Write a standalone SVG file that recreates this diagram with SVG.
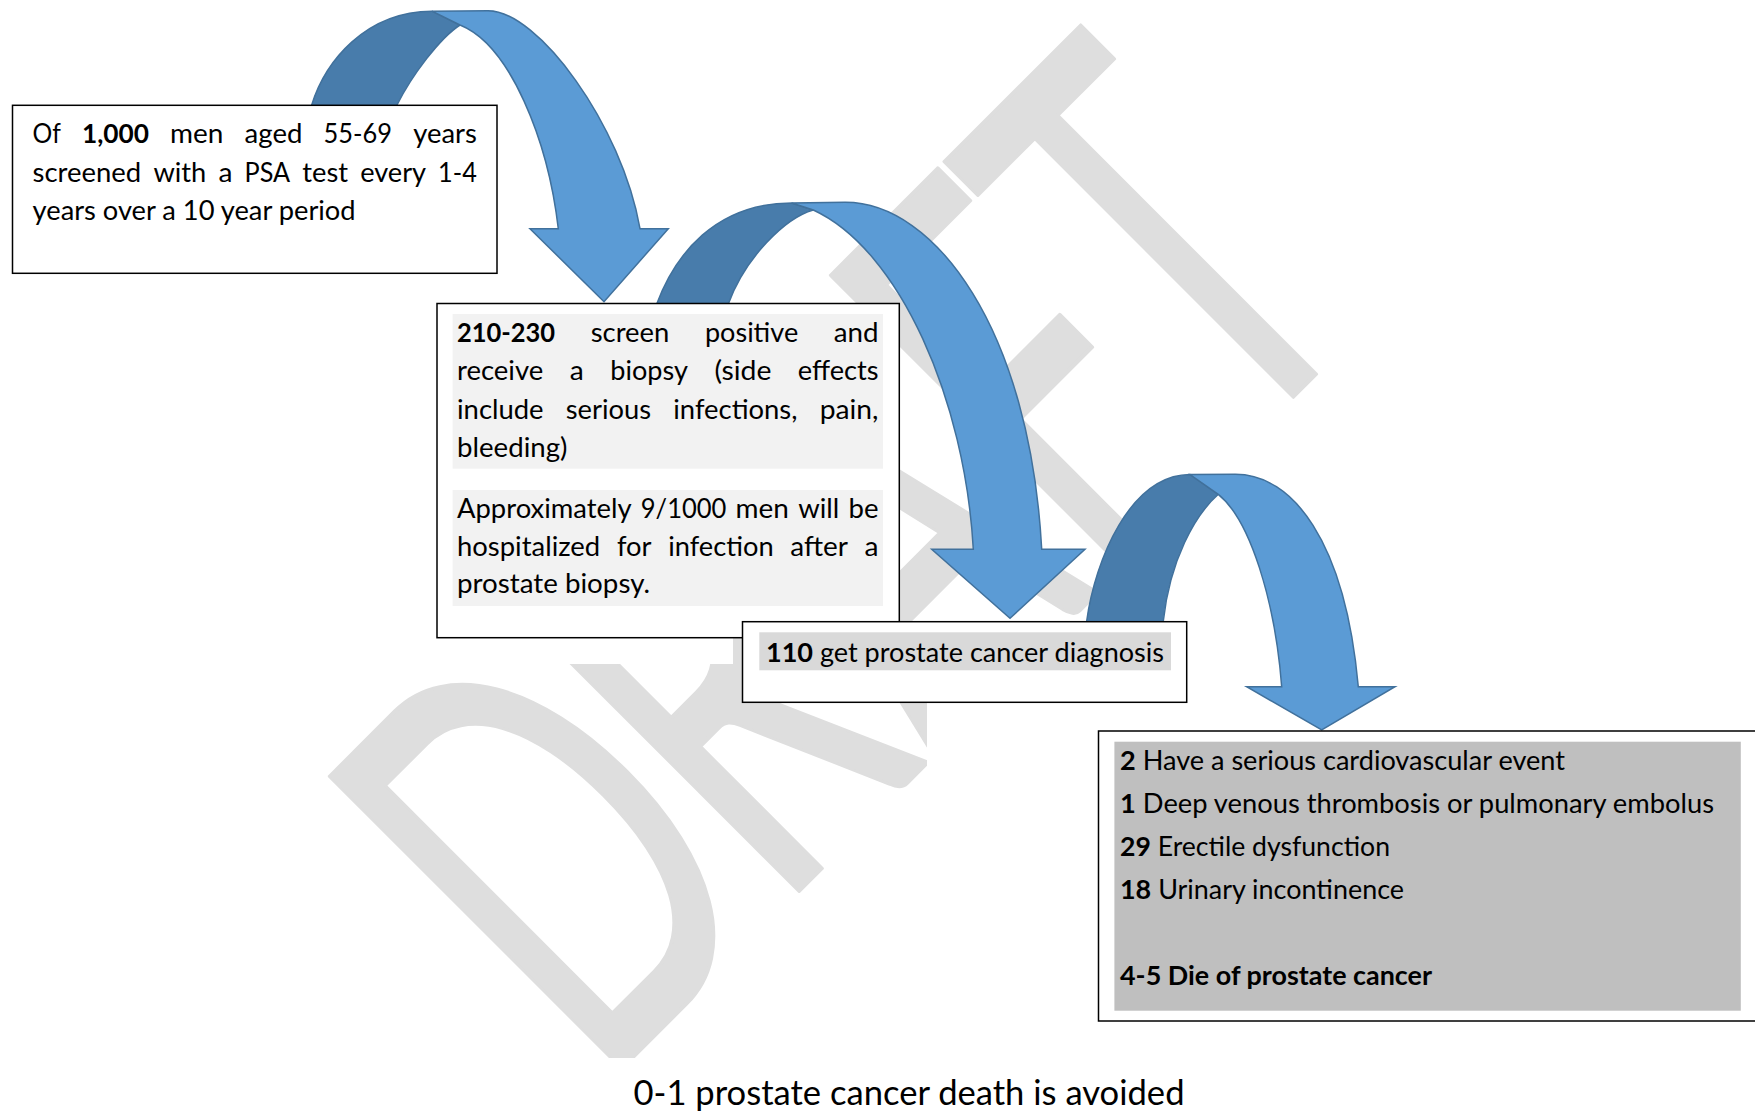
<svg xmlns="http://www.w3.org/2000/svg" width="1755" height="1111" viewBox="0 0 1755 1111">
<style>
.t{font-family:Lato,"Open Sans",sans-serif;font-size:27.3px;fill:#000}
.b{font-weight:bold}
.big{font-size:34.6px}
.box{fill:#fff;stroke:#000;stroke-width:1.5}
.ad{fill:#487CAB;stroke:#41719C;stroke-width:1.5}
.al{fill:#5B9BD5;stroke:#41719C;stroke-width:1.5}
.wm{font-family:Lato,sans-serif;font-size:576px;fill:#dedede;stroke:#dedede;stroke-width:4;stroke-linejoin:round}
</style>
<defs>
<clipPath id="wmclip"><path d="M733,0 H1755 V640 H927 V1058 H0 V664 H733 Z"/></clipPath>
</defs>
<rect width="1755" height="1111" fill="#fff"/>
<g id="watermark" clip-path="url(#wmclip)">
<text class="wm" transform="rotate(-45) scale(0.6,1)" x="-580 -162 207.5 601 913" y="1195">DRAFT</text>
</g>
<g id="connectors">
<g id="arrow1">
<path class="ad" d="M311,125 L311.7,105 C325,62 365,11.5 432,11.2 L460,25 C440,38 412,75 397,105 L397,125 Z"/>
<path class="al" d="M432,11.2 L488,10.7 C538,10.7 622,125 640,228.7 L668.3,228.7 L604,301.7 L530,228.7 L558.3,228.7 C548,140 510,45 460,25 Z"/>
</g>
</g>
<g id="node1">
<rect class="box" x="12.5" y="105.3" width="484.5" height="168"/>
<text class="t" y="143.3"><tspan x="32.6" textLength="28.3" lengthAdjust="spacingAndGlyphs">Of</tspan><tspan x="82" class="b" textLength="67" lengthAdjust="spacingAndGlyphs">1,000</tspan><tspan x="170.1" textLength="53.4" lengthAdjust="spacingAndGlyphs">men</tspan><tspan x="244.6" textLength="57.8" lengthAdjust="spacingAndGlyphs">aged</tspan><tspan x="323.5" textLength="68.4" lengthAdjust="spacingAndGlyphs">55-69</tspan><tspan x="476.8" text-anchor="end" textLength="63.6" lengthAdjust="spacingAndGlyphs">years</tspan></text>
<text class="t" y="181.7"><tspan x="32.6" textLength="108.6" lengthAdjust="spacingAndGlyphs">screened</tspan><tspan x="153.4" textLength="52.9" lengthAdjust="spacingAndGlyphs">with</tspan><tspan x="218.4" textLength="14" lengthAdjust="spacingAndGlyphs">a</tspan><tspan x="244.6" textLength="45.6" lengthAdjust="spacingAndGlyphs">PSA</tspan><tspan x="302.3" textLength="45.7" lengthAdjust="spacingAndGlyphs">test</tspan><tspan x="360.2" textLength="65.9" lengthAdjust="spacingAndGlyphs">every</tspan><tspan x="476.8" text-anchor="end" textLength="38.7" lengthAdjust="spacingAndGlyphs">1-4</tspan></text>
<text class="t" x="32.6" y="220" textLength="323" lengthAdjust="spacingAndGlyphs">years over a 10 year period</text>
</g>
<g id="connectors2">
<g id="arrow2">
<path class="ad" d="M656.7,322 L656.7,304 C675,255 715,203 791.7,203 L813.3,210 C785,218 745,258 728.3,304 L728.3,322 Z"/>
<path class="al" d="M791.7,203 L845,202.3 C935,202 1030,330 1041.7,549.3 L1085,549.3 L1010,618.3 L931.7,549.3 L973.3,549.3 C965,400 900,250 813.3,210 Z"/>
</g>
</g>
<g id="node2">
<rect class="box" x="437" y="303.5" width="462.3" height="334.2"/>
<rect x="452.6" y="314" width="430.4" height="154.7" fill="#f2f2f2"/>
<rect x="452.6" y="490" width="430.4" height="116" fill="#f2f2f2"/>
<text class="t" y="341.7"><tspan x="457" class="b" textLength="98.1" lengthAdjust="spacingAndGlyphs">210-230</tspan><tspan x="590.7" textLength="78.6" lengthAdjust="spacingAndGlyphs">screen</tspan><tspan x="704.9" textLength="93.3" lengthAdjust="spacingAndGlyphs">positive</tspan><tspan x="878.5" text-anchor="end" textLength="44.8" lengthAdjust="spacingAndGlyphs">and</tspan></text>
<text class="t" y="380.2"><tspan x="457" textLength="86.3" lengthAdjust="spacingAndGlyphs">receive</tspan><tspan x="569.8" textLength="14" lengthAdjust="spacingAndGlyphs">a</tspan><tspan x="610.3" textLength="77.6" lengthAdjust="spacingAndGlyphs">biopsy</tspan><tspan x="714.4" textLength="57" lengthAdjust="spacingAndGlyphs">(side</tspan><tspan x="878.5" text-anchor="end" textLength="80.7" lengthAdjust="spacingAndGlyphs">effects</tspan></text>
<text class="t" y="418.7"><tspan x="457" textLength="86.6" lengthAdjust="spacingAndGlyphs">include</tspan><tspan x="565.8" textLength="85.3" lengthAdjust="spacingAndGlyphs">serious</tspan><tspan x="673.3" textLength="124.1" lengthAdjust="spacingAndGlyphs">infections,</tspan><tspan x="878.5" text-anchor="end" textLength="58.8" lengthAdjust="spacingAndGlyphs">pain,</tspan></text>
<text class="t" x="457" y="457.2" textLength="110.5" lengthAdjust="spacingAndGlyphs">bleeding)</text>
<text class="t" y="517.7"><tspan x="457" textLength="174.6" lengthAdjust="spacingAndGlyphs">Approximately</tspan><tspan x="640.8" textLength="85.6" lengthAdjust="spacingAndGlyphs">9/1000</tspan><tspan x="735.6" textLength="53.4" lengthAdjust="spacingAndGlyphs">men</tspan><tspan x="798.2" textLength="41.1" lengthAdjust="spacingAndGlyphs">will</tspan><tspan x="878.5" text-anchor="end" textLength="30" lengthAdjust="spacingAndGlyphs">be</tspan></text>
<text class="t" y="555.7"><tspan x="457" textLength="143.2" lengthAdjust="spacingAndGlyphs">hospitalized</tspan><tspan x="616.9" textLength="34.6" lengthAdjust="spacingAndGlyphs">for</tspan><tspan x="668.2" textLength="105.4" lengthAdjust="spacingAndGlyphs">infection</tspan><tspan x="790.3" textLength="57.6" lengthAdjust="spacingAndGlyphs">after</tspan><tspan x="878.5" text-anchor="end" textLength="14" lengthAdjust="spacingAndGlyphs">a</tspan></text>
<text class="t" x="457" y="593.3" textLength="193" lengthAdjust="spacingAndGlyphs">prostate biopsy.</text>
</g>
<g id="connectors3">
<g id="arrow3">
<path class="ad" d="M1086.7,640 L1086.7,621 C1095,560 1130,475 1190,474.5 L1218.3,494.3 C1195,515 1170,560 1163.3,621 L1163.3,640 Z"/>
<path class="al" d="M1190,474.5 L1235,474.3 C1292,474 1345,540 1358.3,686.7 L1395,686.7 L1321.7,730 L1246.7,686.7 L1281.7,686.7 C1275,600 1250,520 1218.3,494.3 Z"/>
</g>
</g>
<g id="node3">
<rect class="box" x="742.5" y="621.7" width="444.2" height="80.6"/>
<rect x="759.3" y="632.3" width="411.7" height="38" fill="#d9d9d9"/>
<text class="t" x="766" y="661.5" textLength="398" lengthAdjust="spacingAndGlyphs"><tspan class="b">110</tspan> get prostate cancer diagnosis</text>
</g>
<g id="node4">
<rect class="box" x="1098.5" y="731" width="670" height="290"/>
<rect x="1114.4" y="741.7" width="626.4" height="269" fill="#bfbfbf"/>
<text class="t" x="1120" y="770.3" textLength="445" lengthAdjust="spacingAndGlyphs"><tspan class="b">2</tspan> Have a serious cardiovascular event</text>
<text class="t" x="1120" y="813.2" textLength="594" lengthAdjust="spacingAndGlyphs"><tspan class="b">1</tspan> Deep venous thrombosis or pulmonary embolus</text>
<text class="t" x="1120" y="856.1" textLength="270" lengthAdjust="spacingAndGlyphs"><tspan class="b">29</tspan> Erectile dysfunction</text>
<text class="t" x="1120" y="899" textLength="284" lengthAdjust="spacingAndGlyphs"><tspan class="b">18</tspan> Urinary incontinence</text>
<text class="t b" x="1120" y="984.8" textLength="312" lengthAdjust="spacingAndGlyphs">4-5 Die of prostate cancer</text>
</g>
<g id="caption">
<text class="t big" x="633.5" y="1104.5" textLength="551" lengthAdjust="spacingAndGlyphs">0-1 prostate cancer death is avoided</text>
</g>
</svg>
